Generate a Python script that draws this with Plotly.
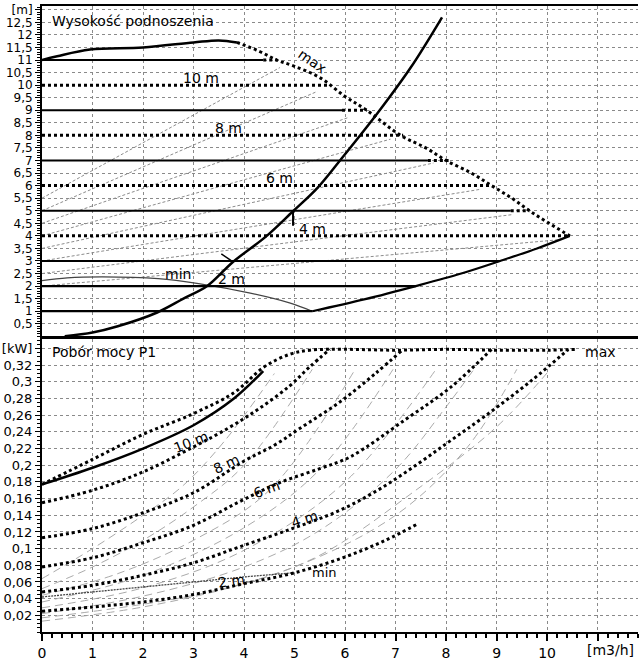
import plotly.graph_objects as go

# ---------------- TOP PANEL: head H [m] vs flow Q [m3/h] ----------------
max_solid_q = [0, 0.3, 0.95, 2.0, 3.0, 3.5, 3.86]
max_solid_h = [11.0, 11.15, 11.42, 11.5, 11.7, 11.78, 11.7]

max_dot_q = [3.86, 4.3, 4.65, 5.0, 5.5, 6.0, 6.43, 7.1, 7.6, 8.0, 8.5, 8.9, 9.3, 9.65, 10.0, 10.45]
max_dot_h = [11.7, 11.35, 11.0, 10.75, 10.3, 9.55, 9.0, 8.0, 7.5, 7.0, 6.5, 6.0, 5.5, 5.0, 4.55, 4.0]

low_bound_q = [5.35, 6.4, 7.4, 8.3, 9.07, 9.8, 10.45]
low_bound_h = [1.0, 1.48, 2.0, 2.5, 3.0, 3.5, 4.0]

min_q = [0, 0.5, 1.2, 2.3, 3.1, 4.1, 4.9, 5.35]
min_h = [2.22, 2.33, 2.37, 2.3, 2.1, 1.73, 1.33, 1.0]

sys_q = [0.45, 1.0, 1.5, 2.28, 2.8, 3.27, 3.78, 4.45, 4.97, 5.45, 5.9, 6.63, 7.3, 7.92]
sys_h = [0.0, 0.15, 0.4, 0.95, 1.5, 2.0, 2.96, 4.0, 4.98, 5.9, 7.0, 8.85, 10.7, 12.7]

# constant-pressure lines: head, end of solid part, end of dotted continuation
solid_heads = [11, 9, 7, 5, 3, 2, 1]
solid_end_q = [4.38, 5.94, 7.64, 9.28, 9.07, 7.4, 5.35]
solid_cont_q = [4.65, 6.43, 8.05, 9.65, None, None, None]

dotted_heads = [10, 8, 6, 4]
dotted_end_q = [5.7, 7.15, 8.9, 10.42]

# proportional-pressure lines (top): start head at Q=0, end point on limit curve
prop_start_h = [5.5, 5.0, 4.5, 4.0, 3.5, 3.0, 2.5, 2.0]
prop_end_q = [4.71, 5.45, 6.05, 6.9, 7.75, 8.67, 9.33, 10.26]
prop_end_h = [10.7, 9.75, 8.7, 7.85, 6.9, 5.85, 4.85, 3.85]

pointer_a_q = [4.97, 4.97]
pointer_a_h = [5.0, 4.4]
pointer_b_q = [3.55, 3.74]
pointer_b_h = [3.28, 3.02]

# ---------------- BOTTOM PANEL: power P1 [kW] vs Q ----------------
p_max_q = [0, 1.0, 2.0, 3.0, 3.8, 4.4, 4.9, 5.3, 6.0, 7.0, 8.0, 9.0, 10.0, 10.6]
p_max_p = [0.177, 0.207, 0.237, 0.262, 0.287, 0.318, 0.333, 0.338, 0.339, 0.338, 0.339, 0.338, 0.338, 0.339]

p11_q = [0, 1.0, 2.0, 3.0, 3.8, 4.38]
p11_p = [0.177, 0.197, 0.22, 0.248, 0.28, 0.313]

p10_q = [0, 1.0, 2.0, 3.0, 3.7, 4.3, 4.9, 5.3, 5.7]
p10_p = [0.155, 0.17, 0.192, 0.222, 0.245, 0.268, 0.295, 0.318, 0.339]

p8_q = [0, 1.0, 2.0, 3.0, 4.0, 4.6, 5.1, 5.9, 6.6, 7.15]
p8_p = [0.113, 0.124, 0.143, 0.167, 0.205, 0.224, 0.244, 0.276, 0.31, 0.339]

p6_q = [0, 1.0, 2.0, 3.0, 3.9, 4.7, 5.5, 6.1, 7.2, 8.1, 8.9]
p6_p = [0.078, 0.089, 0.107, 0.128, 0.156, 0.179, 0.196, 0.21, 0.255, 0.294, 0.339]

p4_q = [0, 1.0, 2.0, 3.0, 4.0, 5.0, 5.9, 6.7, 7.45, 8.1, 8.75, 9.7, 10.42]
p4_p = [0.048, 0.056, 0.068, 0.083, 0.104, 0.125, 0.146, 0.172, 0.202, 0.23, 0.258, 0.302, 0.339]

p2_q = [0, 1.0, 2.0, 3.0, 4.0, 5.0, 6.0, 6.8, 7.45]
p2_p = [0.025, 0.03, 0.036, 0.045, 0.058, 0.071, 0.09, 0.11, 0.13]

pmin_q = [0, 1.0, 2.0, 3.0, 4.0, 5.0]
pmin_p = [0.042, 0.048, 0.054, 0.06, 0.066, 0.071]

# proportional-pressure power lines (bottom)
g11_q = [0, 1.0, 2.0, 2.8, 3.6, 4.6]
g11_p = [0.064, 0.1, 0.14, 0.176, 0.228, 0.31]
g10_q = [0, 1.0, 2.0, 3.0, 4.0, 5.35]
g10_p = [0.052, 0.078, 0.11, 0.15, 0.2, 0.315]
g9_q = [0, 1.5, 3.0, 4.5, 6.2]
g9_p = [0.044, 0.07, 0.11, 0.17, 0.315]
g8_q = [0, 2.0, 4.0, 5.5, 6.95]
g8_p = [0.036, 0.068, 0.125, 0.195, 0.315]
g7_q = [0, 2.0, 4.0, 6.0, 7.8]
g7_p = [0.029, 0.053, 0.098, 0.18, 0.315]
g6_q = [0, 2.0, 4.0, 5.5, 7.0, 8.0, 8.55]
g6_p = [0.022, 0.043, 0.078, 0.122, 0.195, 0.27, 0.315]
g5_q = [0, 3.0, 5.0, 7.0, 8.4, 9.4]
g5_p = [0.017, 0.044, 0.078, 0.14, 0.22, 0.315]
g4_q = [0, 2.0, 4.0, 5.5, 7.4, 9.0, 10.06]
g4_p = [0.013, 0.03, 0.058, 0.092, 0.17, 0.246, 0.315]

# ---------------- axis ticks ----------------
h_tickvals = [0.5, 1, 1.5, 2, 2.5, 3, 3.5, 4, 4.5, 5, 5.5, 6, 6.5, 7, 7.5, 8, 8.5, 9, 9.5,
              10, 10.5, 11, 11.5, 12, 12.5, 13]
h_ticktext = ["0,5", "1", "1,5", "2", "2,5", "3", "3,5", "4", "4,5", "5", "5,5", "6", "6,5",
              "7", "7,5", "8", "8,5", "9", "9,5", "10", "10,5", "11", "11,5", "12", "12,5", "[m]"]
p_tickvals = [0.02, 0.04, 0.06, 0.08, 0.1, 0.12, 0.14, 0.16, 0.18, 0.2, 0.22, 0.24, 0.26,
              0.28, 0.3, 0.32, 0.34]
p_ticktext = ["0,02", "0,04", "0,06", "0,08", "0,1", "0,12", "0,14", "0,16", "0,18", "0,2",
              "0,22", "0,24", "0,26", "0,28", "0,3", "0,32", "[kW]"]
q_tickvals = [0, 1, 2, 3, 4, 5, 6, 7, 8, 9, 10, 11]
q_ticktext = ["0", "1", "2", "3", "4", "5", "6", "7", "8", "9", "10", ""]

FONT = "DejaVu Sans"
fig = go.Figure()


def add(x, y, top, color="black", width=2, dash="solid", shape="linear"):
    fig.add_trace(go.Scatter(
        x=x, y=y, mode="lines",
        line=dict(color=color, width=width, dash=dash, shape=shape),
        xaxis="x2" if top else "x", yaxis="y2" if top else "y",
        hoverinfo="skip", showlegend=False))


GRAY = "#8c8c8c"
# top panel: proportional lines
for h0, qe, he in zip(prop_start_h, prop_end_q, prop_end_h):
    add([0, qe], [h0, he], True, GRAY, 1, "3px,2px")
# min curve
add(min_q, min_h, True, "#444", 1.2, "solid", "spline")
# constant pressure lines
for h, qs, qc in zip(solid_heads, solid_end_q, solid_cont_q):
    add([0, qs], [h, h], True, "black", 2.2)
    if qc is not None:
        add([qs, qc], [h, h], True, "black", 3, "dot")
for h, qe in zip(dotted_heads, dotted_end_q):
    add([0, qe], [h, h], True, "black", 3, "dot")
# limits
add(max_solid_q, max_solid_h, True, "black", 2.5, "solid", "spline")
add(max_dot_q, max_dot_h, True, "black", 3, "dot", "spline")
add(low_bound_q, low_bound_h, True, "black", 2.2, "solid", "spline")
# system curve
add(sys_q, sys_h, True, "black", 2.5, "solid", "spline")
add(pointer_a_q, pointer_a_h, True, "black", 2)
add(pointer_b_q, pointer_b_h, True, "black", 1.5)

# bottom panel
for gq, gp in [(g11_q, g11_p), (g10_q, g10_p), (g9_q, g9_p), (g8_q, g8_p),
               (g7_q, g7_p), (g6_q, g6_p), (g5_q, g5_p), (g4_q, g4_p)]:
    add(gq, gp, False, "#a0a0a0", 0.9, "8px,5px", "spline")
add(pmin_q, pmin_p, False, "#444", 1.3, "2px,1px", "spline")
add(p_max_q, p_max_p, False, "black", 3, "dot", "spline")
add(p11_q, p11_p, False, "black", 2.5, "solid", "spline")
for cq, cp in [(p10_q, p10_p), (p8_q, p8_p), (p6_q, p6_p), (p4_q, p4_p), (p2_q, p2_p)]:
    add(cq, cp, False, "black", 3, "dot", "spline")

ann = []


def label(x, y, text, top, angle=0, size=14, xanchor="center"):
    ann.append(dict(x=x, y=y, text=text, xref="x2" if top else "x", yref="y2" if top else "y",
                    showarrow=False, textangle=angle, xanchor=xanchor,
                    font=dict(family=FONT, size=size, color="black")))


label(0.15, 12.55, "Wysokość podnoszenia", True, 0, 14, "left")
label(5.35, 10.95, "max", True, 35)
label(3.15, 10.3, "10 m", True)
label(3.7, 8.3, "8 m", True)
label(4.7, 6.32, "6 m", True)
label(5.35, 4.27, "4 m", True)
label(3.75, 2.3, "2 m", True)
label(2.7, 2.5, "min", True)

label(0.15, 0.336, "Pobór mocy P1", False, 0, 14, "left")
label(11.05, 0.336, "max", False)
label(2.95, 0.228, "10 m", False, -22)
label(3.65, 0.201, "8 m", False, -25)
label(4.45, 0.172, "6 m", False, -20)
label(5.2, 0.136, "4 m", False, -18)
label(3.75, 0.061, "2 m", False, -8)
label(5.6, 0.071, "min", False, 0, 13)

ann.append(dict(x=11.25, y=0, xref="x", yref="paper", text="[m3/h]", showarrow=False,
                yanchor="top", yshift=-8, font=dict(family=FONT, size=14, color="black")))

grid = dict(showgrid=True, gridcolor="#8a8a8a", gridwidth=1, griddash="dot")
axline = dict(showline=True, linecolor="black", linewidth=2)

fig.update_layout(
    width=640, height=663,
    margin=dict(l=42, r=2, t=6, b=26),
    paper_bgcolor="white", plot_bgcolor="white",
    font=dict(family=FONT, size=14, color="black"),
    annotations=ann,
    xaxis=dict(domain=[0, 1], anchor="y", range=[0, 11.8], tickmode="array",
               tickvals=q_tickvals, ticktext=q_ticktext, ticks="outside", ticklen=7,
               tickwidth=1.5, tickcolor="black", zeroline=False, mirror=True,
               tickfont=dict(size=14),
               minor=dict(dtick=0.2, tick0=0, ticks="outside", ticklen=4, tickcolor="black",
                          showgrid=False),
               **grid, **axline),
    yaxis=dict(domain=[0, 0.4675], anchor="x", range=[0, 0.351], tickmode="array",
               tickvals=p_tickvals, ticktext=p_ticktext, ticks="outside", ticklen=5,
               tickcolor="black", zeroline=False, tickfont=dict(size=13),
               minor=dict(dtick=0.005, tick0=0, ticks="outside", ticklen=3, tickcolor="black",
                          showgrid=False),
               **grid, **axline),
    xaxis2=dict(domain=[0, 1], anchor="y2", range=[0, 11.8], matches="x", tickmode="array",
                tickvals=q_tickvals, showticklabels=False, ticks="", zeroline=False, mirror=True,
                **grid, **axline),
    yaxis2=dict(domain=[0.4723, 1], anchor="x2", range=[0, 13.15], tickmode="array",
                tickvals=h_tickvals, ticktext=h_ticktext, ticks="outside", ticklen=5,
                tickcolor="black", zeroline=False, tickfont=dict(size=12),
                minor=dict(dtick=0.1, tick0=0, ticks="outside", ticklen=3, tickcolor="black",
                           showgrid=False),
                **grid, **axline),
)

fig.write_html("out.html")
